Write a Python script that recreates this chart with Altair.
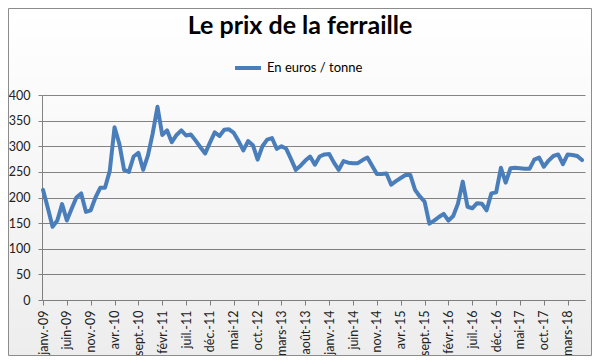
import altair as alt
import pandas as pd

# ---- data ----
title_text = "Le prix de la ferraille"
series_name = "En euros / tonne"
month_abbr = ["janv.", "févr.", "mars", "avr.", "mai", "juin",
              "juil.", "août", "sept.", "oct.", "nov.", "déc."]
start_year = 9  # janv.-09

prices = [
    215, 180, 143, 155, 187, 155, 178, 200, 208, 172,
    175, 200, 219, 219, 252, 337, 305, 254, 250, 280,
    287, 254, 282, 325, 377, 322, 331, 308, 322, 331,
    321, 323, 311, 298, 286, 307, 327, 320, 332, 333,
    326, 310, 292, 310, 302, 274, 300, 313, 316, 295,
    300, 295, 275, 254, 262, 272, 280, 264, 280, 284,
    285, 268, 254, 271, 268, 267, 267, 273, 278, 262,
    246, 246, 247, 225, 232, 238, 244, 244, 215, 202,
    192, 149, 155, 162, 168, 155, 164, 188, 231, 182,
    179, 189, 188, 175, 208, 210, 258, 229, 257, 258,
    257, 256, 256, 274, 278, 260, 272, 281, 284, 265,
    284, 283, 281, 273,
]

month_labels = [f"{month_abbr[i % 12]}-{start_year + i // 12:02d}" for i in range(len(prices))]
x_tick_idx = list(range(0, len(prices), 5))
y_ticks = [0, 50, 100, 150, 200, 250, 300, 350, 400]

df = pd.DataFrame({"idx": list(range(len(prices))), "prix": prices, "serie": series_name})

label_expr = "[" + ",".join(f"'{l}'" for l in month_labels) + "][datum.value]"

FONT = "Lato"
GRID = "#868686"

one_row = pd.DataFrame({"k": [0]})

# decorative chart-area background (gradient + frame)
bg = alt.Chart(one_row).mark_rect(
    fill={"gradient": "linear", "x1": 0, "y1": 0, "x2": 0, "y2": 1,
          "stops": [{"offset": 0, "color": "rgba(0,0,0,0)"},
                    {"offset": 1, "color": "rgba(0,0,0,0.07)"}]},
    stroke="#8c8c8c", strokeWidth=1,
).encode(x=alt.value(-33.5), x2=alt.value(549.5), y=alt.value(-86.5), y2=alt.value(260.5))

# chart title
title = alt.Chart(one_row).mark_text(
    text=title_text, font=FONT, fontSize=25, fontWeight="bold", color="black",
    align="center", baseline="alphabetic",
).encode(x=alt.value(258), y=alt.value(-61))

line = alt.Chart(df).mark_line(strokeWidth=4, strokeJoin="round", strokeCap="round").encode(
    x=alt.X("idx:Q",
            scale=alt.Scale(domain=[-0.21, 113.63], nice=False, zero=False),
            axis=alt.Axis(values=x_tick_idx, labelExpr=label_expr, labelAngle=-90,
                          tickSize=5, labelPadding=5, grid=False, title=None,
                          labelFontSize=12.5)),
    y=alt.Y("prix:Q",
            scale=alt.Scale(domain=[0, 400], nice=False),
            axis=alt.Axis(values=y_ticks, tickSize=4, labelPadding=8, grid=True,
                          gridColor=GRID, title=None, labelFontSize=12.5)),
    color=alt.Color("serie:N",
                    scale=alt.Scale(domain=[series_name], range=["#4A7EBB"]),
                    legend=alt.Legend(title=None, orient="none", legendX=191, legendY=-42,
                                      symbolType="stroke", symbolStrokeWidth=4, symbolSize=676,
                                      labelFont=FONT, labelFontSize=13, labelColor="black",
                                      labelOffset=4, padding=0)),
)

chart = alt.layer(bg, title, line).properties(
    width=543, height=205,
    autosize=alt.AutoSizeParams(type="none"),
    padding={"left": 34, "top": 87, "right": 7, "bottom": 56},
).configure(background="white").configure_view(stroke=None).configure_axis(
    labelFont=FONT, labelColor="#222", domainColor=GRID, tickColor=GRID, gridWidth=1,
)

chart.save("out.html", embed_options={"renderer": "svg", "actions": False})
